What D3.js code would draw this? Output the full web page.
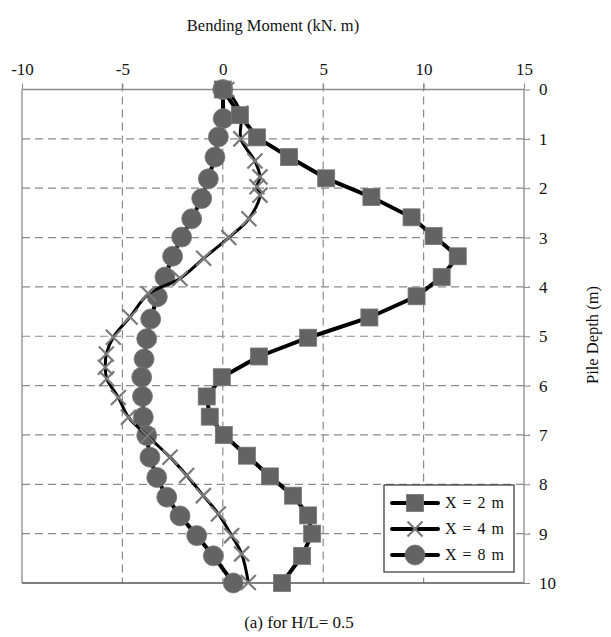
<!DOCTYPE html>
<html><head><meta charset="utf-8">
<script src="https://cdn.jsdelivr.net/npm/d3@7"></script>
<style>body{margin:0;background:#fff}svg{display:block}text{font-family:"Liberation Serif","DejaVu Serif",serif;fill:#111}</style>
</head><body><svg id="c" width="611" height="637"></svg>
<script>
const xTicks = [-10, -5, 0, 5, 10, 15];
const yTicks = [0, 1, 2, 3, 4, 5, 6, 7, 8, 9, 10];
const seriesNames = ["X = 2 m", "X = 4 m", "X = 8 m"];
const depth2 = [0, 0.52, 0.97, 1.37, 1.8, 2.18, 2.59, 2.97, 3.38, 3.8, 4.19, 4.62, 5.03, 5.41, 5.83, 6.22, 6.63, 7.0, 7.42, 7.84, 8.23, 8.63, 9.0, 9.45, 10.0];
const moment2 = [0.0, 0.85, 1.7, 3.3, 5.15, 7.4, 9.4, 10.5, 11.7, 10.9, 9.65, 7.3, 4.25, 1.8, -0.05, -0.8, -0.65, 0.05, 1.2, 2.35, 3.5, 4.25, 4.45, 3.95, 2.95];
const depth4 = [0, 0.48, 1.0, 1.45, 1.77, 1.97, 2.14, 2.62, 3.0, 3.42, 3.83, 4.14, 4.61, 5.02, 5.36, 5.63, 5.86, 6.24, 6.64, 7.02, 7.45, 7.82, 8.23, 8.6, 9.04, 9.41, 9.99];
const moment4 = [0.2, 0.9, 0.9, 1.6, 1.85, 1.7, 1.85, 1.3, 0.3, -0.95, -2.13, -3.7, -4.62, -5.45, -5.8, -5.85, -5.78, -5.2, -4.7, -3.75, -2.63, -1.8, -0.97, -0.22, 0.44, 0.94, 1.27];
const depth8 = [0, 0.59, 0.96, 1.37, 1.81, 2.21, 2.62, 2.99, 3.38, 3.8, 4.2, 4.65, 5.05, 5.46, 5.83, 6.22, 6.64, 7.01, 7.45, 7.86, 8.26, 8.64, 9.04, 9.45, 10.0];
const moment8 = [0.0, 0.02, -0.22, -0.39, -0.72, -1.05, -1.55, -2.05, -2.5, -2.88, -3.26, -3.59, -3.79, -3.92, -4.04, -4.0, -3.96, -3.79, -3.63, -3.29, -2.79, -2.13, -1.3, -0.47, 0.52];

const svg = d3.select("#c");
const L = 22, R = 524, T = 89.5, B = 583;
const x = d3.scaleLinear().domain([-10, 15]).range([L, R]);
const y = d3.scaleLinear().domain([0, 10]).range([T, B]);
const grey = "#8a8a8a", mk = "#636363";

// grid
const g = svg.append("g");
g.selectAll(".vg").data(xTicks.filter(v => v > -10 && v < 15)).join("line")
  .attr("x1", d => x(d)).attr("x2", d => x(d)).attr("y1", T - 6).attr("y2", B)
  .attr("stroke", grey).attr("stroke-width", 1.2).attr("stroke-dasharray", "8,5");
g.selectAll(".hg").data(yTicks.filter(v => v > 0 && v < 10)).join("line")
  .attr("x1", L).attr("x2", R + 6).attr("y1", d => y(d)).attr("y2", d => y(d))
  .attr("stroke", grey).attr("stroke-width", 1.2).attr("stroke-dasharray", "8,5");
// frame
g.append("line").attr("x1", L).attr("x2", R).attr("y1", T).attr("y2", T).attr("stroke", grey).attr("stroke-width", 1.3);
g.append("line").attr("x1", L).attr("x2", L).attr("y1", T).attr("y2", B).attr("stroke", grey).attr("stroke-width", 1.3);
g.append("line").attr("x1", R).attr("x2", R).attr("y1", T).attr("y2", B).attr("stroke", grey).attr("stroke-width", 1.3);
g.append("line").attr("x1", L).attr("x2", R).attr("y1", B).attr("y2", B).attr("stroke", "#555").attr("stroke-width", 1.5);

// axes (top, right)
const fmt = d => String(d);
const xAxis = d3.axisTop(x).tickValues(xTicks).tickFormat(fmt).tickSize(6).tickPadding(9);
const ax = svg.append("g").attr("transform", `translate(0,${T})`).call(xAxis);
ax.select(".domain").remove();
ax.selectAll("line").attr("stroke", grey);
ax.selectAll("text").style("font-size", "17px").style("font-family", "Liberation Serif, serif").attr("fill", "#111");
const yAxis = d3.axisRight(y).tickValues(yTicks).tickFormat(fmt).tickSize(6).tickPadding(9);
const ay = svg.append("g").attr("transform", `translate(${R},0)`).call(yAxis);
ay.select(".domain").remove();
ay.selectAll("line").attr("stroke", grey);
ay.selectAll("text").style("font-size", "17px").style("font-family", "Liberation Serif, serif").attr("fill", "#111");

svg.append("text").attr("x", 273).attr("y", 31).attr("text-anchor", "middle").style("font-size", "16.5px").text("Bending Moment (kN. m)");
svg.append("text").attr("transform", "translate(598,335) rotate(-90)").attr("text-anchor", "middle").style("font-size", "16.5px").text("Pile Depth (m)");
svg.append("text").attr("x", 299).attr("y", 628).attr("text-anchor", "middle").style("font-size", "17px").text("(a) for H/L= 0.5");

const line = d3.line().x(d => x(d[0])).y(d => y(d[1]));
const s2 = moment2.map((m, i) => [m, depth2[i]]);
const s4 = moment4.map((m, i) => [m, depth4[i]]);
const s8 = moment8.map((m, i) => [m, depth8[i]]);

function drawSquare(sel, cx, cy) {
  sel.append("rect").attr("x", cx - 8.5).attr("y", cy - 8.5).attr("width", 17).attr("height", 17).attr("fill", mk).attr("stroke", "#777").attr("stroke-width", 0.8);
}
function drawCircle(sel, cx, cy) {
  sel.append("circle").attr("cx", cx).attr("cy", cy).attr("r", 10).attr("fill", mk).attr("stroke", "#777").attr("stroke-width", 0.8);
}
function drawCross(sel, cx, cy) {
  const s = 7.5;
  sel.append("path").attr("d", `M${cx - s},${cy - s}L${cx + s},${cy + s}M${cx - s},${cy + s}L${cx + s},${cy - s}`).attr("stroke", "#7a7a7a").attr("stroke-width", 2.2).attr("fill", "none");
}

// series X=8
const p8 = svg.append("g");
p8.append("path").datum(s8).attr("d", line).attr("fill", "none").attr("stroke", "#000").attr("stroke-width", 4);
s8.forEach(d => drawCircle(p8, x(d[0]), y(d[1])));
// series X=4
const p4 = svg.append("g");
p4.append("path").datum(s4).attr("d", d3.line().x(d => x(d[0])).y(d => y(d[1])).curve(d3.curveCatmullRom))
  .attr("fill", "none").attr("stroke", "#000").attr("stroke-width", 3);
s4.forEach(d => drawCross(p4, x(d[0]), y(d[1])));
// series X=2
const p2 = svg.append("g");
p2.append("path").datum(s2).attr("d", line).attr("fill", "none").attr("stroke", "#000").attr("stroke-width", 4);
s2.forEach(d => drawSquare(p2, x(d[0]), y(d[1])));

// legend
const lg = svg.append("g");
lg.append("rect").attr("x", 384).attr("y", 485).attr("width", 130).attr("height", 87).attr("fill", "#fff").attr("stroke", "#333").attr("stroke-width", 1.2);
const drawers = [drawSquare, drawCross, drawCircle];
seriesNames.forEach((n, i) => {
  const cy = 503 + i * 26;
  lg.append("line").attr("x1", 392).attr("x2", 438).attr("y1", cy).attr("y2", cy).attr("stroke", "#000").attr("stroke-width", 4).attr("stroke-linecap", "round");
  drawers[i](lg, 415, cy);
  lg.append("text").attr("x", 445).attr("y", cy + 5).style("font-size", "16px").style("word-spacing", "2px").text(n);
});
</script></body></html>
